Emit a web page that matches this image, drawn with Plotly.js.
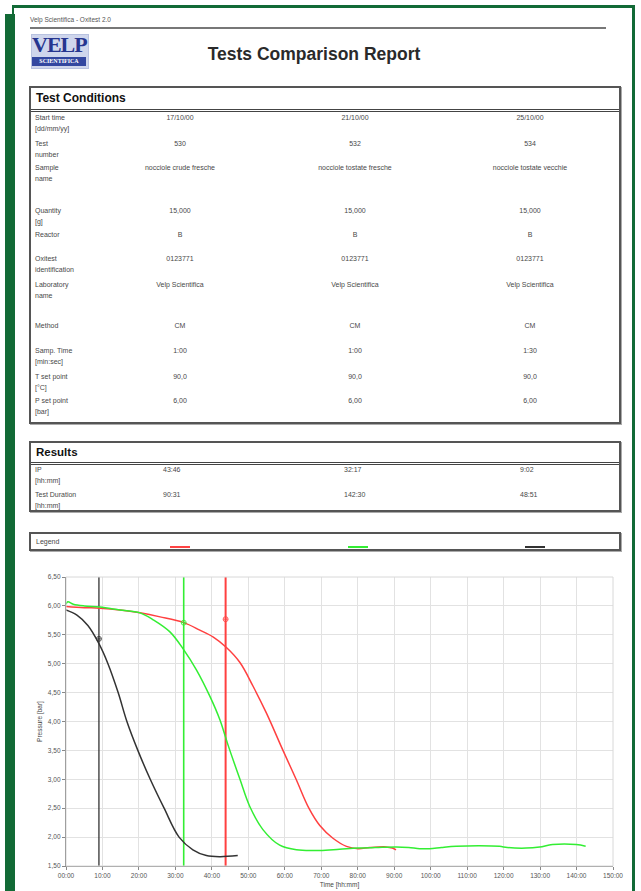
<!DOCTYPE html>
<html>
<head>
<meta charset="utf-8">
<script src="https://cdn.plot.ly/plotly-3.0.1.min.js"></script>
<style>
  html, body { margin:0; padding:0; background:#fff; }
  body { width:641px; height:891px; position:relative; overflow:hidden; font-family:"Liberation Sans", Arial, sans-serif; color:#333; }
  .g { position:absolute; background:#126a36; }
  .abs { position:absolute; white-space:nowrap; }
  .box { position:absolute; border:2px solid #555; box-shadow:1px 1px 0 #aaa; background:#fff; }
  .hdr { position:absolute; left:0; right:0; top:0; border-bottom:3px double #444; font-weight:bold; color:#111; padding-left:5px; }
  .lbl { position:absolute; font-size:7px; line-height:11px; color:#484848; }
  .val { position:absolute; font-size:7px; line-height:11px; color:#484848; transform:translateX(-50%); white-space:nowrap; }
  .valL { position:absolute; font-size:7px; line-height:11px; color:#484848; white-space:nowrap; }
</style>
</head>
<body>
<!-- green frame -->
<div class="g" style="left:12px;top:5px;width:623px;height:3px;"></div>
<div class="g" style="left:12px;top:5px;width:2px;height:12px;"></div>
<div class="g" style="left:5px;top:14px;width:10px;height:877px;"></div>
<div class="g" style="left:632px;top:5px;width:3px;height:886px;"></div>

<!-- page header -->
<div class="abs" style="left:30px;top:16px;font-size:6.5px;color:#555;">Velp Scientifica - Oxitest 2.0</div>
<div class="abs" style="left:30px;top:27px;width:576px;height:2px;background:#777;"></div>

<!-- logo -->
<div class="abs" style="left:31px;top:34px;width:56px;height:33px;background:#cfd6ec;border:1px solid #b8c2e0;"></div>
<div class="abs" style="left:32px;top:33px;width:54px;text-align:center;font-family:'Liberation Serif','DejaVu Serif',serif;font-weight:bold;font-size:22px;line-height:24px;color:#26358f;letter-spacing:-1px;">VELP</div>
<div class="abs" style="left:32px;top:57px;width:54px;height:9px;background:#3347a0;color:#fff;font-size:6px;line-height:9px;text-align:center;font-weight:bold;font-family:'Liberation Serif',serif;">SCIENTIFICA</div>

<div class="abs" style="left:150px;width:328px;top:44px;text-align:center;font-size:17.5px;font-weight:bold;color:#2a2a2a;">Tests Comparison Report</div>

<!-- Test Conditions box -->
<div class="box" id="condBox" style="left:29px;top:86px;width:588px;height:334px;">
  <div class="hdr" style="height:21px;line-height:21px;font-size:12px;">Test Conditions</div>
</div>

<!-- Results box -->
<div class="box" id="resBox" style="left:29px;top:441px;width:588px;height:67px;">
  <div class="hdr" style="height:19px;line-height:19px;font-size:11.5px;">Results</div>
</div>

<!-- Legend box -->
<div class="box" id="legBox" style="left:29px;top:532px;width:588px;height:15px;">
  <div class="lbl" style="left:5px;top:2px;">Legend</div>
</div>

<div id="chart" style="position:absolute;left:0;top:560px;width:641px;height:331px;"></div>

<script>
// ---------- report table data ----------
const condLabels = [["Start time","[dd/mm/yy]"],["Test","number"],["Sample","name"],["Quantity","[g]"],["Reactor"],["Oxitest","identification"],["Laboratory","name"],["Method"],["Samp. Time","[min:sec]"],["T set point","[°C]"],["P set point","[bar]"]];
const test1Cond = ["17/10/00","530","nocciole crude fresche","15,000","B","0123771","Velp Scientifica","CM","1:00","90,0","6,00"];
const test2Cond = ["21/10/00","532","nocciole tostate fresche","15,000","B","0123771","Velp Scientifica","CM","1:00","90,0","6,00"];
const test3Cond = ["25/10/00","534","nocciole tostate vecchie","15,000","B","0123771","Velp Scientifica","CM","1:30","90,0","6,00"];
const resultLabels = [["IP","[hh:mm]"],["Test Duration","[hh:mm]"]];
const test1Res = ["43:46","90:31"];
const test2Res = ["32:17","142:30"];
const test3Res = ["9:02","48:51"];
const legendColors = ["#ff4444","#33ee33","#333333"];

// ---------- chart data ----------
const redTime  = [0, 5, 9.3, 14.8, 20.3, 25.8, 32.3, 36.7, 40.4, 44, 47.7, 51.3, 55, 59.5, 63.1, 66.6, 69.6, 73.2, 76.9, 80.1, 83.3, 87.8, 89.5, 90.5];
const redPress = [5.99, 5.97, 5.96, 5.93, 5.88, 5.81, 5.71, 5.58, 5.46, 5.28, 5.02, 4.61, 4.14, 3.5, 3.0, 2.5, 2.2, 1.98, 1.84, 1.80, 1.82, 1.83, 1.81, 1.78];
const greenTime  = [0, 0.5, 2, 5, 9.3, 14.8, 20.3, 23.9, 28.5, 32.3, 35.8, 39.5, 42.2, 44.4, 47.7, 50.4, 54, 58.6, 63.2, 69.6, 75, 80, 85, 90.6, 94, 97, 99.7, 103, 107, 113.4, 118.9, 121, 126.2, 129.9, 133.4, 139.9, 142.5];
const greenPress = [6.03, 6.07, 6.03, 6.0, 5.98, 5.93, 5.88, 5.76, 5.55, 5.24, 4.89, 4.43, 4.03, 3.6, 3.0, 2.53, 2.13, 1.86, 1.78, 1.77, 1.79, 1.81, 1.82, 1.83, 1.82, 1.80, 1.80, 1.82, 1.84, 1.85, 1.84, 1.82, 1.81, 1.83, 1.87, 1.87, 1.84];
const blackTime  = [0, 3, 6, 9, 11.5, 14.3, 16.7, 19.7, 23.1, 26.9, 31.0, 34.8, 38.5, 42.2, 47.1];
const blackPress = [5.93, 5.84, 5.66, 5.35, 5.0, 4.5, 4.0, 3.5, 3.0, 2.5, 2.0, 1.78, 1.68, 1.66, 1.68];
const ipTimes = [43.77, 32.28, 9.03];
const ipMarkPress = [5.77, 5.71, 5.43];
const xTickVals = [0,10,20,30,40,50,60,70,80,90,100,110,120,130,140,150];
const xTickText = ["00:00","10:00","20:00","30:00","40:00","50:00","60:00","70:00","80:00","90:00","100:00","110:00","120:00","130:00","140:00","150:00"];
const yTickVals = [1.5,2,2.5,3,3.5,4,4.5,5,5.5,6,6.5];
const yTickText = ["1,50","2,00","2,50","3,00","3,50","4,00","4,50","5,00","5,50","6,00","6,50"];

// ---------- build tables ----------
function add(parent, cls, text, left, top) {
  const d = document.createElement('div');
  d.className = cls; d.style.left = left + 'px'; d.style.top = top + 'px';
  d.innerHTML = text; parent.appendChild(d); return d;
}
const condBox = document.getElementById('condBox');
const condY = [117,143,167,210,234,258,284,325,350,376,400];
const colX = [180-31, 355-31, 530-31];
const boxTop = 88;
condLabels.forEach((lines, i) => {
  add(condBox, 'lbl', lines.join('<br>'), 4, condY[i] - boxTop - 5);
  [test1Cond, test2Cond, test3Cond].forEach((col, j) => {
    add(condBox, 'val', col[i], colX[j], condY[i] - boxTop - 5);
  });
});
const resBox = document.getElementById('resBox');
const resY = [469, 494];
const resX = [163-31, 344-31, 520-31];
resultLabels.forEach((lines, i) => {
  add(resBox, 'lbl', lines.join('<br>'), 4, resY[i] - 443 - 5);
  [test1Res, test2Res, test3Res].forEach((col, j) => {
    add(resBox, 'valL', col[i], resX[j], resY[i] - 443 - 5);
  });
});
const legBox = document.getElementById('legBox');
const legX = [170-31, 348-31, 525-31];
legendColors.forEach((c, j) => {
  const d = document.createElement('div');
  d.style.cssText = 'position:absolute;height:1.5px;width:20px;top:12px;left:' + legX[j] + 'px;background:' + c + ';';
  legBox.appendChild(d);
});

// ---------- chart ----------
const curveColors = ["#ff4040", "#33ee33", "#333333"];
const traces = [];
const ipWidths = [2, 1.6, 1.3];
ipTimes.forEach((t, i) => {
  traces.push({x:[t,t], y:[1.5,6.5], mode:'lines', line:{color:curveColors[i], width:ipWidths[i]}, hoverinfo:'skip'});
});
traces.push({x:redTime, y:redPress, mode:'lines', line:{color:curveColors[0], width:1.5, shape:'spline', smoothing:1}});
traces.push({x:greenTime, y:greenPress, mode:'lines', line:{color:curveColors[1], width:1.5, shape:'spline', smoothing:1}});
traces.push({x:blackTime, y:blackPress, mode:'lines', line:{color:curveColors[2], width:1.5, shape:'spline', smoothing:1}});
traces.push({x:ipTimes, y:ipMarkPress, mode:'markers',
  marker:{symbol:'circle-cross-open', size:5, color:curveColors, line:{width:0.8}}});

const layout = {
  width:641, height:331,
  margin:{l:66, r:28, t:17, b:25, autoexpand:false},
  paper_bgcolor:'rgba(0,0,0,0)', plot_bgcolor:'#fff',
  showlegend:false,
  font:{family:'"Liberation Sans", Arial, sans-serif', size:7, color:'#555'},
  xaxis:{range:[0,150], tickvals:xTickVals, ticktext:xTickText, showgrid:true, gridcolor:'#e2e2e2', gridwidth:1,
         showline:true, linecolor:'#888', linewidth:1, ticks:'outside', ticklen:3, tickcolor:'#888',
         zeroline:false, tickfont:{size:6.5, color:'#555'}, automargin:false,
         title:{text:'Time [hh:mm]', font:{size:6.5, color:'#444'}, standoff:4}},
  yaxis:{range:[1.5,6.5], tickvals:yTickVals, ticktext:yTickText, showgrid:true, gridcolor:'#e2e2e2', gridwidth:1,
         showline:true, linecolor:'#666', linewidth:1.2, ticks:'outside', ticklen:3, tickcolor:'#888',
         zeroline:false, tickfont:{size:6.5, color:'#555'}, automargin:false,
         title:{text:'Pressure [bar]', font:{size:6.5, color:'#444'}, standoff:4}},
  shapes:[{type:'rect', xref:'paper', yref:'paper', x0:0, x1:1, y0:0, y1:1, line:{color:'#d8d8d8', width:1}}]
};
Plotly.newPlot('chart', traces, layout, {staticPlot:true, displayModeBar:false});
</script>
</body>
</html>
